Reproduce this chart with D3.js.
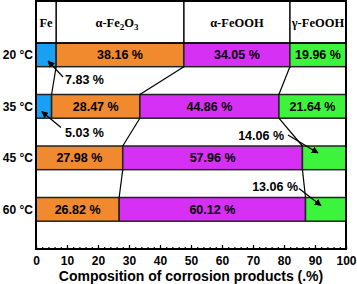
<!DOCTYPE html>
<html>
<head>
<meta charset="utf-8">
<script src="https://cdn.jsdelivr.net/npm/d3@7"></script>
<style>
  body { margin: 0; background: #fff; }
  svg { display: block; }
</style>
</head>
<body>
<div class="chart"></div>
<script>
(function() {
  // rows and segment widths (as drawn)
  var temps = ["20 °C", "35 °C", "45 °C", "60 °C"];
  var fe   = [6.5, 5.03, 0, 0];
  var hem  = [41.2, 28.47, 27.98, 26.82];
  var goe  = [34.2, 44.86, 57.96, 60.12];
  var lep  = [18.1, 21.64, 14.06, 13.06];
  // printed percentages
  var feText  = ["7.83 %", "5.03 %", "", ""];
  var hemText = ["38.16 %", "28.47 %", "27.98 %", "26.82 %"];
  var goeText = ["34.05 %", "44.86 %", "57.96 %", "60.12 %"];
  var lepText = ["19.96 %", "21.64 %", "14.06 %", "13.06 %"];
  var phases = ["Fe", "α-Fe2O3", "α-FeOOH", "γ-FeOOH"];
  var xTicks = d3.range(0, 101, 10);
  var colors = ["#18a0f4", "#f18a2e", "#d630f5", "#3cf43c"];

  var width = 357, height = 284,
    margin = {left: 36, right: 11, top: 1, bottom: 35},
    headerBottom = 43;

  var x = d3.scaleLinear().domain([0, 100]).range([margin.left, width - margin.right]);
  var y = d3.scaleBand().domain(temps)
    .range([headerBottom, height - margin.bottom])
    .paddingInner(0.54).paddingOuter(0.27).align(0);

  var svg = d3.select(".chart").append("svg")
    .attr("width", width)
    .attr("height", height);

  var defs = svg.append("defs");
  defs.append("marker")
    .attr("id", "head")
    .attr("viewBox", "0 0 10 10")
    .attr("refX", 9).attr("refY", 5)
    .attr("markerWidth", 7).attr("markerHeight", 7)
    .attr("markerUnits", "userSpaceOnUse")
    .attr("orient", "auto")
    .append("path").attr("d", "M0,0L10,5L0,10z").attr("fill", "#000");

  var rows = temps.map(function(t, i) {
    var vals = [fe[i], hem[i], goe[i], lep[i]];
    var texts = [feText[i], hemText[i], goeText[i], lepText[i]];
    var acc = 0;
    var segs = vals.map(function(v, k) {
      var s = {row: t, k: k, x0: acc, x1: acc + v, text: texts[k]};
      acc += v;
      return s;
    });
    return {temp: t, segs: segs};
  });

  // bars
  var gBars = svg.append("g");
  rows.forEach(function(r) {
    gBars.selectAll(null)
      .data(r.segs.filter(function(s) { return s.x1 > s.x0; }))
      .enter().append("rect")
        .attr("x", function(s) { return x(s.x0); })
        .attr("y", y(r.temp))
        .attr("width", function(s) { return x(s.x1) - x(s.x0); })
        .attr("height", y.bandwidth())
        .attr("fill", function(s) { return colors[s.k]; })
        .attr("stroke", "#222")
        .attr("stroke-width", 1.5);
  });

  // in-bar labels (skip thin ones)
  rows.forEach(function(r, i) {
    gBars.selectAll(null)
      .data(r.segs.filter(function(s) { return s.k > 0 && !(s.k === 3 && i > 1); }))
      .enter().append("text")
        .attr("x", function(s) { return (x(s.x0) + x(s.x1)) / 2; })
        .attr("y", y(r.temp) + y.bandwidth() / 2)
        .attr("dy", "0.36em")
        .attr("text-anchor", "middle")
        .style("font", "bold 12.5px 'Liberation Sans', Arial, sans-serif")
        .text(function(s) { return s.text; });
  });

  // connecting lines between boundaries of neighbouring rows
  var gConn = svg.append("g").attr("stroke", "#000").attr("stroke-width", 1.2);
  for (var i = 0; i < rows.length - 1; i++) {
    for (var k = 0; k < 3; k++) {
      var a = rows[i].segs[k].x1, b = rows[i + 1].segs[k].x1;
      if (rows[i + 1].segs[k].x1 === rows[i + 1].segs[k].x0 && k === 0) continue;
      gConn.append("line")
        .attr("x1", x(a)).attr("y1", y(temps[i]) + y.bandwidth())
        .attr("x2", x(b)).attr("y2", y(temps[i + 1]));
    }
  }

  // header
  var gHead = svg.append("g");
  gHead.append("rect")
    .attr("x", x(0)).attr("y", margin.top)
    .attr("width", x(100) - x(0)).attr("height", headerBottom - margin.top)
    .attr("fill", "none").attr("stroke", "#000").attr("stroke-width", 1.5);
  rows[0].segs.slice(0, 3).forEach(function(s) {
    gHead.append("line")
      .attr("x1", x(s.x1)).attr("x2", x(s.x1))
      .attr("y1", margin.top).attr("y2", headerBottom)
      .attr("stroke", "#000").attr("stroke-width", 1.5);
  });
  var ht = gHead.selectAll("text")
    .data(rows[0].segs)
    .enter().append("text")
      .attr("x", function(s) { return (x(s.x0) + x(s.x1)) / 2 + (s.k === 1 ? -3 : 0); })
      .attr("y", 27)
      .attr("text-anchor", "middle")
      .style("font", "bold 12.5px 'Liberation Serif', 'Times New Roman', serif");
  ht.each(function(s) {
    var t = d3.select(this), name = phases[s.k];
    if (name === "α-Fe2O3") {
      t.append("tspan").text("α-Fe");
      t.append("tspan").attr("dy", 3).style("font-size", "9px").text("2");
      t.append("tspan").attr("dy", -3).text("O");
      t.append("tspan").attr("dy", 3).style("font-size", "9px").text("3");
    } else {
      t.text(name);
    }
  });

  // frame
  svg.append("rect")
    .attr("x", x(0)).attr("y", margin.top)
    .attr("width", x(100) - x(0)).attr("height", height - margin.bottom - margin.top)
    .attr("fill", "none").attr("stroke", "#000").attr("stroke-width", 2);

  // y labels
  svg.append("g").selectAll("text")
    .data(temps)
    .enter().append("text")
      .attr("x", x(0) - 3)
      .attr("y", function(d) { return y(d) + y.bandwidth() / 2; })
      .attr("dy", "0.36em")
      .attr("text-anchor", "end")
      .style("font", "bold 12px 'Liberation Sans', Arial, sans-serif")
      .text(function(d) { return d; });

  // x axis
  var axisY = height - margin.bottom;
  var gx = svg.append("g").attr("transform", "translate(0," + axisY + ")");
  gx.call(d3.axisBottom(x).tickValues(d3.range(0, 101, 2)).tickSize(-2).tickFormat(""));
  gx.append("g").call(d3.axisBottom(x).tickValues(xTicks).tickSize(-4).tickPadding(7.5));
  gx.selectAll(".domain").remove();
  gx.selectAll("line").attr("stroke", "#000").attr("stroke-width", 1.2);
  gx.selectAll("text")
    .style("font", "bold 12px 'Liberation Sans', Arial, sans-serif")
    .attr("fill", "#000");

  svg.append("text")
    .attr("x", (x(0) + x(100)) / 2)
    .attr("y", 281)
    .attr("text-anchor", "middle")
    .style("font", "bold 14px 'Liberation Sans', Arial, sans-serif")
    .text("Composition of corrosion products (.%)");

  // outside labels with arrows
  var labelFont = "bold 12.5px 'Liberation Sans', Arial, sans-serif";
  var notes = [
    {text: feText[0], anchor: "start", tx: x(0) + 29, ty: y(temps[0]) + 41,
     x1: x(0) + 27, y1: y(temps[0]) + 34, x2: x(fe[0] / 2) + 2, y2: y(temps[0]) + 18},
    {text: feText[1], anchor: "start", tx: x(0) + 29, ty: y(temps[1]) + 42,
     x1: x(0) + 25, y1: y(temps[1]) + 33, x2: x(fe[1] / 2) - 2, y2: y(temps[1]) + 17},
    {text: lepText[2], anchor: "end", tx: x(100) - 62, ty: y(temps[2]) - 6,
     x1: x(100) - 58, y1: y(temps[2]) - 11, x2: x(100) - 28, y2: y(temps[2]) + 7},
    {text: lepText[3], anchor: "end", tx: x(100) - 48, ty: y(temps[3]) - 7,
     x1: x(100) - 47, y1: y(temps[3]) - 9, x2: x(100) - 25, y2: y(temps[3]) + 8}
  ];
  var gn = svg.append("g");
  gn.selectAll("line").data(notes).enter().append("line")
    .attr("x1", function(d) { return d.x1; }).attr("y1", function(d) { return d.y1; })
    .attr("x2", function(d) { return d.x2; }).attr("y2", function(d) { return d.y2; })
    .attr("stroke", "#000").attr("stroke-width", 1.2)
    .attr("marker-end", "url(#head)");
  gn.selectAll("text").data(notes).enter().append("text")
    .attr("x", function(d) { return d.tx; }).attr("y", function(d) { return d.ty; })
    .attr("text-anchor", function(d) { return d.anchor; })
    .style("font", labelFont)
    .text(function(d) { return d.text; });
})();
</script>
</body>
</html>
